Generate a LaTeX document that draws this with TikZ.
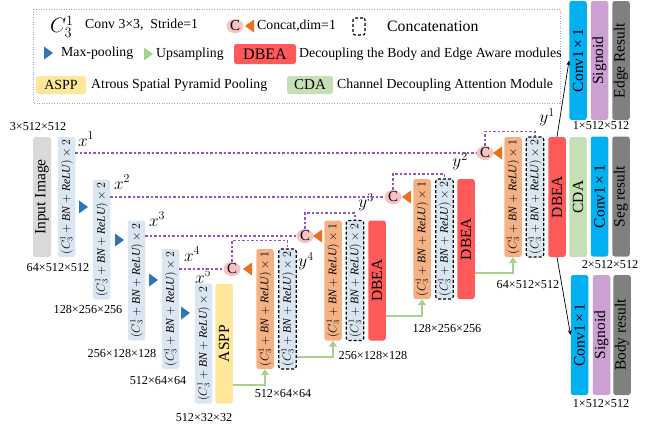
\documentclass[tikz,border=0pt]{standalone}
\usepackage{graphicx}
\usepackage{fontspec}
\setmainfont{Liberation Serif}
\usetikzlibrary{shapes.geometric,arrows.meta}
\definecolor{encblue}{RGB}{218,230,242}
\definecolor{decor}{RGB}{244,177,131}
\definecolor{dbred}{RGB}{255,89,89}
\definecolor{cdagreen}{RGB}{197,224,180}
\definecolor{asppy}{RGB}{255,230,153}
\definecolor{convcyan}{RGB}{0,176,240}
\definecolor{sigpurple}{RGB}{204,160,210}
\definecolor{resgray}{RGB}{128,128,128}
\definecolor{imggray}{RGB}{217,217,217}
\definecolor{cpink}{RGB}{245,195,195}
\definecolor{triorange}{RGB}{232,114,28}
\definecolor{triblue}{RGB}{46,117,182}
\definecolor{upgreen}{RGB}{169,209,142}
\definecolor{skipc}{RGB}{145,85,200}
\definecolor{legborder}{RGB}{150,170,215}
\newcommand{\vtxt}[1]{\rotatebox{90}{#1}}
\newcommand{\blkfont}{\fontsize{15.5}{16}\selectfont}
\newcommand{\lgfont}{\fontsize{13.8}{14}\selectfont}
\newcommand{\dimfont}{\fontsize{12.2}{13}\selectfont}
\newcommand{\encf}[1]{\rotatebox{90}{\fontsize{11.6}{13}\selectfont$(C_3^1+\mathit{BN}+\mathit{ReLU})\times#1$}}
\tikzset{
  blk/.style={rectangle, rounded corners=2.5pt, inner sep=0pt, minimum width=17.5pt, minimum height=120pt},
  enc/.style={blk, fill=encblue},
  dec/.style={blk, fill=decor},
  cat/.style={blk, fill=encblue, draw=black, dash pattern=on 3pt off 2pt, line width=1.1pt},
  cnode/.style={ellipse, fill=cpink, inner sep=0pt, minimum width=17pt, minimum height=14pt, font=\fontsize{15}{15}\selectfont},
  skipl/.style={draw=skipc, dash pattern=on 2.5pt off 2pt, line width=1.25pt},
  upar/.style={draw=upgreen, line width=2pt, -{Triangle[length=6pt,width=8pt]}},
  blkarr/.style={draw=black, line width=0.7pt, -{Stealth[length=5pt,width=4pt]}},
  dimlab/.style={font=\dimfont, inner sep=0pt},
  xlab/.style={font=\fontsize{17}{17}\selectfont, inner sep=0pt},
  lgtext/.style={font=\lgfont, anchor=west, inner sep=0pt},
  rtri/.pic={\fill[triblue] (-4,-6.5) -- (5,0) -- (-4,6.5) -- cycle;},
  gtri/.pic={\fill[upgreen] (-4,-6.5) -- (5,0) -- (-4,6.5) -- cycle;},
  ltri/.pic={\fill[triorange] (4,-6.5) -- (-5,0) -- (4,6.5) -- cycle;},
}
\begin{document}
\begin{tikzpicture}[x=1pt,y=-1pt]
\useasboundingbox (0,0) rectangle (647,429);
% ---------------- legend ----------------
\draw[legborder, dash pattern=on 1pt off 1.5pt, line width=0.8pt] (33,9) rectangle (560,103);
\node[font=\fontsize{21}{21}\selectfont, inner sep=0pt] (lgC) at (62,27) {$C_3^1$};
\node[lgtext] (lgconv) at (85,25) {Conv 3×3,\ \ Stride=1};
\node[cnode] (lgcat) at (235,26) {C};
\pic (lgotri) at (250,26) {ltri};
\node[lgtext] (lgcattxt) at (257,26) {Concat,dim=1};
\node[rectangle, rounded corners=2pt, draw=black, dash pattern=on 3pt off 2pt, line width=1.1pt, minimum width=12pt, minimum height=17pt, inner sep=0pt] (lgdash) at (359,26.5) {};
\node[lgtext, font=\fontsize{15.8}{16}\selectfont] (lgconc) at (387,26) {Concatenation};
\pic (lgbtri) at (48,53) {rtri};
\node[lgtext] (lgmax) at (61,53) {Max-pooling};
\pic (lggtri) at (148,54) {gtri};
\node[lgtext] (lgup) at (156,54) {Upsampling};
\node[rectangle, rounded corners=2.5pt, fill=dbred, minimum width=62pt, minimum height=20pt, inner sep=0pt, font=\fontsize{16}{16}\selectfont] (lgdbea) at (265,54) {DBEA};
\node[lgtext] (lgdbeatxt) at (299,54) {Decoupling the Body and Edge Aware modules};
\node[rectangle, rounded corners=2.5pt, fill=asppy, minimum width=50pt, minimum height=18pt, inner sep=0pt, font=\fontsize{14}{14}\selectfont] (lgaspp) at (61,85) {ASPP};
\node[lgtext] (lgaspptxt) at (91,85) {Atrous Spatial Pyramid Pooling};
\node[rectangle, rounded corners=2.5pt, fill=cdagreen, minimum width=46pt, minimum height=18pt, inner sep=0pt, font=\fontsize{15}{15}\selectfont] (lgcda) at (310,85) {CDA};
\node[lgtext] (lgcdatxt) at (337,85) {Channel Decoupling Attention Module};
% ---------------- encoder ----------------
\node[blk, fill=imggray, minimum width=18pt] (img) at (42,197) {\vtxt{\blkfont Input Image}};
\node[enc] (e1) at (66.5,197) {\encf{2}};
\node[enc] (e2) at (101.5,239.5) {\encf{2}};
\node[enc] (e3) at (136.5,280.5) {\encf{2}};
\node[enc] (e4) at (170.5,309) {\encf{2}};
\node[enc] (e5) at (203.5,343.5) {\encf{2}};
\node[blk, fill=asppy] (aspp) at (224,343.5) {\vtxt{\blkfont ASPP}};
\pic (p1) at (83,207) {rtri};
\pic (p2) at (119,240) {rtri};
\pic (p3) at (153,280) {rtri};
\pic (p4) at (185,313) {rtri};
\node[dimlab] (dimin) at (38,127) {3×512×512};
\node[dimlab] (dim1) at (58,268) {64×512×512};
\node[dimlab] (dim2) at (88,309) {128×256×256};
\node[dimlab] (dim3) at (122,353) {256×128×128};
\node[dimlab] (dim4) at (158,381) {512×64×64};
\node[dimlab] (dim5) at (204,418) {512×32×32};
\node[xlab] (lx1) at (86,139) {$x^1$};
\node[xlab] (lx2) at (122,182) {$x^2$};
\node[xlab] (lx3) at (157,219) {$x^3$};
\node[xlab] (lx4) at (192,254) {$x^4$};
\node[xlab] (lx5) at (203,276) {$x^5$};
% ---------------- decoder ----------------
\node[dec] (d4o) at (265,309) {\encf{1}};
\node[cat] (d4d) at (287.5,309) {\encf{2}};
\node[dec] (d3o) at (333,280.5) {\encf{1}};
\node[cat] (d3d) at (355,280.5) {\encf{2}};
\node[blk, fill=dbred] (db3) at (377,280.5) {\vtxt{\blkfont DBEA}};
\node[dec] (d2o) at (422,239) {\encf{1}};
\node[cat] (d2d) at (444.5,239) {\encf{2}};
\node[blk, fill=dbred] (db2) at (466,239) {\vtxt{\blkfont DBEA}};
\node[dec] (d1o) at (513,197) {\encf{1}};
\node[cat] (d1d) at (535,197) {\encf{2}};
\node[blk, fill=dbred] (db1) at (557,197) {\vtxt{\blkfont DBEA}};
\node[blk, fill=cdagreen] (cda) at (578,197) {\vtxt{\blkfont CDA}};
\node[blk, fill=convcyan] (sconv) at (599.5,196.5) {\vtxt{\blkfont Conv1\,×\,1}};
\node[blk, fill=resgray] (sres) at (621,196.5) {\vtxt{\blkfont Seg result}};
\node[blk, fill=convcyan, minimum height=119pt] (econv) at (578,60.5) {\vtxt{\blkfont Conv1\,×\,1}};
\node[blk, fill=sigpurple, minimum height=119pt] (esig) at (599.5,60.5) {\vtxt{\blkfont Signoid}};
\node[blk, fill=resgray, minimum height=119pt] (eres) at (621,60.5) {\vtxt{\blkfont Edge Result}};
\node[blk, fill=convcyan] (bconv) at (579.5,335) {\vtxt{\blkfont Conv1\,×\,1}};
\node[blk, fill=sigpurple] (bsig) at (601.5,335) {\vtxt{\blkfont Signoid}};
\node[blk, fill=resgray] (bres) at (622,335) {\vtxt{\blkfont Body result}};
\node[dimlab] (dimd4) at (283,394) {512×64×64};
\node[dimlab] (dimd3) at (373,355) {256×128×128};
\node[dimlab] (dimd2) at (447,328) {128×256×256};
\node[dimlab] (dimd1) at (528,285) {64×512×512};
\node[dimlab] (dime) at (601,126) {1×512×512};
\node[dimlab] (dims) at (610,265) {2×512×512};
\node[dimlab] (dimb) at (601,404) {1×512×512};
\node[xlab] (ly1) at (547,117) {$y^1$};
\node[xlab] (ly2) at (460,161) {$y^2$};
\node[xlab] (ly3) at (366,202) {$y^3$};
\node[xlab] (ly4) at (306,261) {$y^4$};
% concat nodes
\node[cnode] (c1) at (485,153) {C};
\node[cnode] (c2) at (393,197) {C};
\node[cnode] (c3) at (305,236) {C};
\node[cnode] (c4) at (232,269) {C};
\pic (o1) at (498,153) {ltri};
\pic (o2) at (407,197) {ltri};
\pic (o3) at (318,236) {ltri};
\pic (o4) at (248,269) {ltri};
% skip connections
\draw[skipl] (e1.east |- c1.west) -- (c1.west);
\draw[skipl] (e2.east |- c2.west) -- (c2.west);
\draw[skipl] (e3.east |- c3.west) -- (c3.west);
\draw[skipl] (e4.east |- c4.west) -- (c4.west);
\draw[skipl] (c1.north) |- ([yshift=5pt]d1d.north) -- (d1d.north);
\draw[skipl] (c2.north) |- ([yshift=4.5pt]d2d.north) -- (d2d.north);
\draw[skipl] (c3.north) |- ([yshift=7pt]d3d.north) -- (d3d.north);
\draw[skipl] (c4.north) |- ([yshift=8pt]d4d.north) -- (d4d.north);
% upsampling
\draw[upar] (aspp.east |- 0,385) -| (d4o.south);
\draw[upar] (d4d.east |- 0,357) -| (d3o.south);
\draw[upar] (db3.east |- 0,316) -| (d2o.south);
\draw[upar] (db2.east |- 0,273) -| (d1o.south);
% outputs
\draw[blkarr] (db1.north) -- (econv.west);
\draw[blkarr] (db1.south) -- (bconv.west);
\end{tikzpicture}
\end{document}
